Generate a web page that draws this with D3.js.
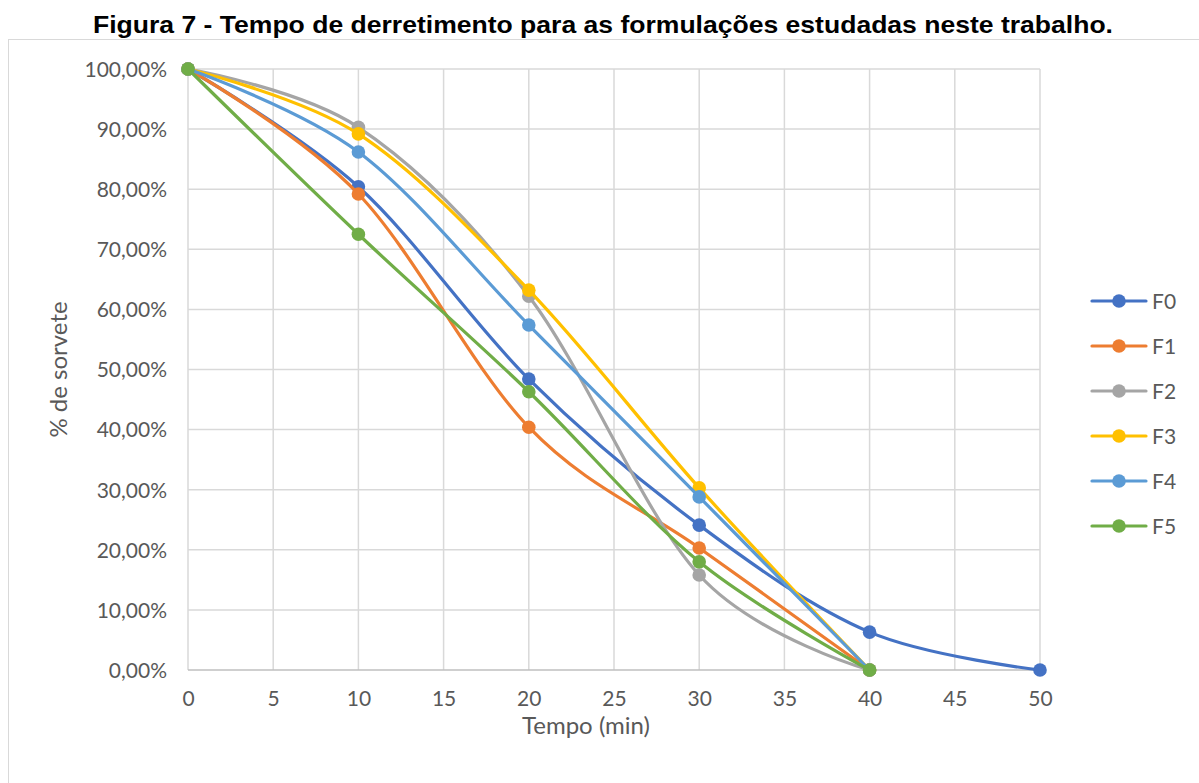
<!DOCTYPE html>
<html>
<head>
<meta charset="utf-8">
<script src="https://cdn.jsdelivr.net/npm/d3@7"></script>
<style>
  body { margin: 0; background: #fff; }
  svg { display: block; }
</style>
</head>
<body>
<div id="chart"></div>
<script>
// Tempo de derretimento (min) e % de sorvete restante
const tempos = [0, 10, 20, 30, 40, 50];
const xTicks = [0, 5, 10, 15, 20, 25, 30, 35, 40, 45, 50];
const yTicks = [0, 10, 20, 30, 40, 50, 60, 70, 80, 90, 100];

const F0 = [100, 80.4, 48.4, 24.1, 6.3, 0];
const F1 = [100, 79.2, 40.4, 20.3, 0];
const F2 = [100, 90.3, 62.2, 15.8, 0];
const F3 = [100, 89.2, 63.2, 30.3, 0];
const F4 = [100, 86.2, 57.4, 28.8, 0];
const F5 = [100, 72.5, 46.3, 18.0, 0];

const seriesNames = ['F0', 'F1', 'F2', 'F3', 'F4', 'F5'];
const seriesValues = [F0, F1, F2, F3, F4, F5];
const colors = ['#4472C4', '#ED7D31', '#A5A5A5', '#FFC000', '#5B9BD5', '#70AD47'];

const W = 1199, H = 783;
const svg = d3.select('#chart').append('svg')
    .attr('width', W)
    .attr('height', H);

// Chart frame
svg.append('rect')
    .attr('x', 8.5)
    .attr('y', 39.5)
    .attr('width', 1200)
    .attr('height', 800)
    .attr('fill', 'none')
    .attr('stroke', '#d9d9d9')
    .attr('stroke-width', 1);

// Title
svg.append('text')
    .attr('x', 603)
    .attr('y', 33)
    .attr('text-anchor', 'middle')
    .attr('textLength', 1020)
    .attr('lengthAdjust', 'spacingAndGlyphs')
    .style('font-family', '"Liberation Sans", Arial, sans-serif')
    .style('font-weight', 'bold')
    .style('font-size', '24px')
    .style('fill', '#000')
    .text('Figura 7 - Tempo de derretimento para as formulações estudadas neste trabalho.');

const plot = { left: 188, right: 1040, top: 69, bottom: 670 };

const x = d3.scaleLinear().domain([0, 50]).range([plot.left, plot.right]);
const y = d3.scaleLinear().domain([0, 100]).range([plot.bottom, plot.top]);

const tickFont = 'Lato, "Open Sans", sans-serif';

// Grid lines
const grid = svg.append('g').attr('class', 'grid');
grid.selectAll('line.v')
    .data(xTicks)
    .enter()
    .append('line')
    .attr('x1', d => x(d))
    .attr('x2', d => x(d))
    .attr('y1', y(0))
    .attr('y2', y(100))
    .attr('stroke', '#d9d9d9')
    .attr('stroke-width', 1.5);
grid.selectAll('line.h')
    .data(yTicks)
    .enter()
    .append('line')
    .attr('x1', x(0))
    .attr('x2', x(50))
    .attr('y1', d => y(d))
    .attr('y2', d => y(d))
    .attr('stroke', d => d === 0 ? '#bfbfbf' : '#d9d9d9')
    .attr('stroke-width', 1.5);

// Axes (labels only, lines drawn as grid)
const fmtPct = d => d.toFixed(2).replace('.', ',') + '%';

const yAxis = svg.append('g')
    .attr('transform', `translate(${plot.left - 21},0)`)
    .call(d3.axisLeft(y).tickValues(yTicks).tickSize(0).tickFormat(fmtPct));
yAxis.select('.domain').remove();
yAxis.selectAll('text')
    .attr('x', 0)
    .attr('dy', '0.35em')
    .style('font-family', tickFont)
    .style('font-size', '21px')
    .style('fill', '#595959');

const xAxis = svg.append('g')
    .attr('transform', `translate(0,${plot.bottom + 21})`)
    .call(d3.axisBottom(x).tickValues(xTicks).tickSize(0).tickFormat(d3.format('d')));
xAxis.select('.domain').remove();
xAxis.selectAll('text')
    .attr('y', 0)
    .attr('dy', '0.71em')
    .style('font-family', tickFont)
    .style('font-size', '21px')
    .style('fill', '#595959');

// Axis titles
svg.append('text')
    .attr('x', 586)
    .attr('y', 734)
    .attr('text-anchor', 'middle')
    .style('font-family', tickFont)
    .style('font-size', '24px')
    .style('fill', '#595959')
    .text('Tempo (min)');

svg.append('text')
    .attr('transform', `translate(67,${(plot.top + plot.bottom) / 2}) rotate(-90)`)
    .attr('text-anchor', 'middle')
    .style('font-family', tickFont)
    .style('font-size', '24px')
    .style('fill', '#595959')
    .text('% de sorvete');

// Smoothed lines like the spreadsheet's "smooth line" option
const line = d3.line()
    .x((d, i) => x(tempos[i]))
    .y(d => y(d))
    .curve(d3.curveCatmullRom.alpha(0));

seriesNames.forEach((name, s) => {
    const values = seriesValues[s];
    const g = svg.append('g').attr('class', `series-${s}`);
    g.append('path')
        .datum(values)
        .attr('d', line)
        .attr('fill', 'none')
        .attr('stroke', colors[s])
        .attr('stroke-width', 3.2)
        .attr('stroke-linecap', 'round');
    g.selectAll('circle')
        .data(values)
        .enter()
        .append('circle')
        .attr('cx', (d, i) => x(tempos[i]))
        .attr('cy', d => y(d))
        .attr('r', 6.8)
        .attr('fill', colors[s]);
});

// Legend
const legend = svg.append('g')
    .attr('class', 'legend')
    .attr('transform', 'translate(1092, 301)');

seriesNames.forEach((name, i) => {
    const item = legend.append('g')
        .attr('transform', `translate(0, ${i * 45})`);
    item.append('line')
        .attr('x1', 0)
        .attr('x2', 54)
        .attr('y1', 0)
        .attr('y2', 0)
        .attr('stroke', colors[i])
        .attr('stroke-width', 3.2)
        .attr('stroke-linecap', 'round');
    item.append('circle')
        .attr('cx', 27)
        .attr('cy', 0)
        .attr('r', 6.8)
        .attr('fill', colors[i]);
    item.append('text')
        .attr('x', 60)
        .attr('y', 0)
        .attr('dy', '0.36em')
        .style('font-family', tickFont)
        .style('font-size', '21px')
        .style('fill', '#595959')
        .text(name);
});
</script>
</body>
</html>
